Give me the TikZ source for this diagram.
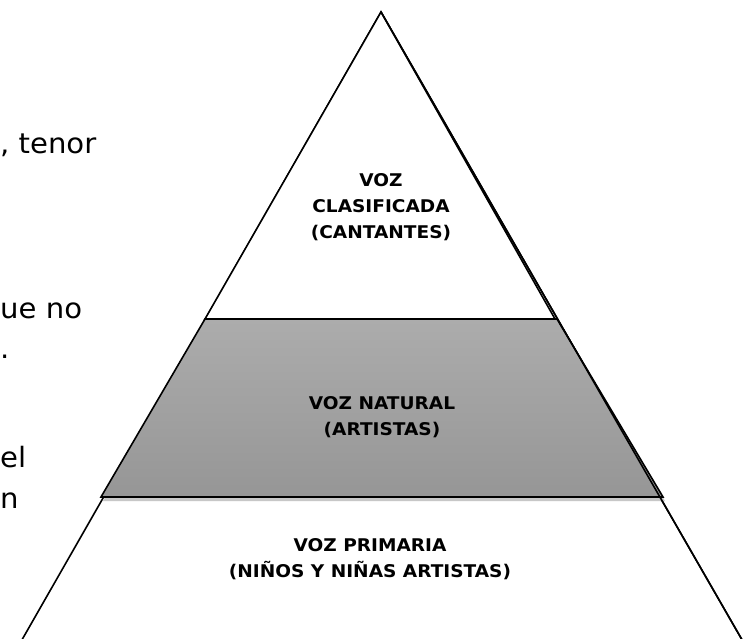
\documentclass[tikz,border=0pt]{standalone}
\usepackage{fontspec}
\setmainfont{DejaVu Sans}
\newfontfamily\lblfont[FakeStretch=1.06]{DejaVu Sans}
\newfontfamily\sidefont[FakeStretch=1.04]{DejaVu Sans}
\begin{document}
\begin{tikzpicture}[x=1pt,y=-1pt,
  edge/.style={line width=1.6pt,line join=miter},
  lbl/.style={font=\lblfont\fontsize{17.5}{26}\selectfont\bfseries,align=center,inner sep=0pt},
  side/.style={font=\sidefont\fontsize{28}{34}\selectfont,inner sep=0pt,anchor=base west}]
\useasboundingbox (0,0) rectangle (747,639);
\clip (0,0) rectangle (747,639);
\fill[white] (0,0) rectangle (747,639);
% named corners
\coordinate (apex) at (381,12);
\coordinate (bl) at (19,645);
\coordinate (br) at (745,645);
\coordinate (tl) at (205,319);
\coordinate (tr) at (557,319);
\coordinate (ml) at (101,497);
\coordinate (mr) at (663,497);
% outer triangle
\draw[edge] (bl) -- (apex) -- (br);
% shadow of middle band
\fill[black!22] ([shift={(2,4)}]tl) -- ([shift={(2,4)}]tr) -- ([shift={(2,4)}]mr) -- ([shift={(2,4)}]ml) -- cycle;
% middle band
\shade[top color={rgb,255:red,172;green,172;blue,172},bottom color={rgb,255:red,150;green,150;blue,150}]
  (tl) -- (tr) -- (mr) -- (ml) -- cycle;
\draw[edge] (tl) -- (tr) -- (mr) -- (ml) -- cycle;
% top triangle
\draw[edge,fill=white] (apex) -- (tl) -- ([xshift=-2]tr) -- cycle;
\draw[edge] (apex) -- (br);
% labels
\node[lbl] (top) at (381,207) {VOZ\\CLASIFICADA\\(CANTANTES)};
\node[lbl] (mid) at (382,417) {VOZ NATURAL\\(ARTISTAS)};
\node[lbl] (bot) at (370,559) {VOZ PRIMARIA\\(NIÑOS Y NIÑAS ARTISTAS)};
% side text
\node[side] (s1) at (0,154) {, tenor};
\node[side] (s2) at (0,318) {ue no};
\node[side] (s3) at (0,358) {.};
\node[side] (s4) at (0,467) {el};
\node[side] (s5) at (0,508) {n};
\end{tikzpicture}
\end{document}
